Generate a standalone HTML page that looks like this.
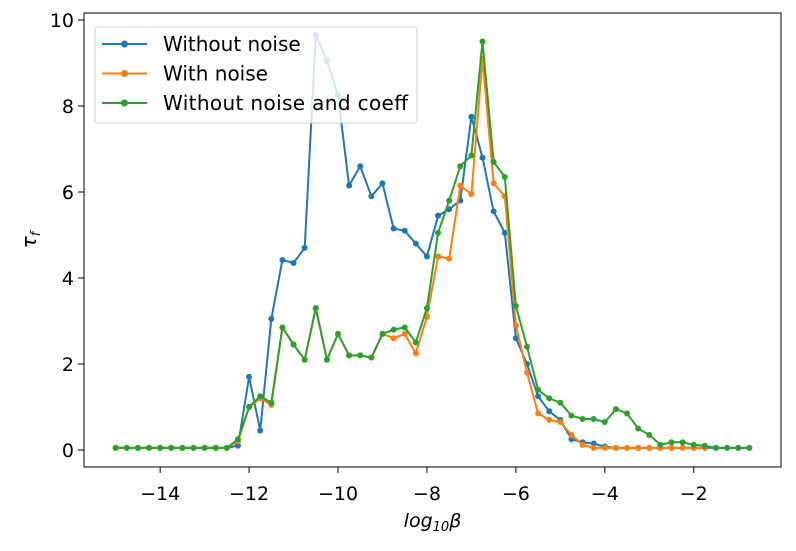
<!DOCTYPE html>
<html><head><meta charset="utf-8"><style>body{margin:0;background:#fff}svg{display:block;font-family:"DejaVu Sans","Liberation Sans",sans-serif}</style></head>
<body>
<svg id="chart" width="796" height="551"></svg>
<script>
const xStart=-15, xStep=0.25;
const blueVals=[0.05,0.05,0.05,0.05,0.05,0.05,0.05,0.05,0.05,0.05,0.05,0.1,1.7,0.45,3.05,4.42,4.35,4.7,9.65,9.05,8.25,6.15,6.6,5.9,6.2,5.15,5.1,4.8,4.5,5.45,5.6,5.8,7.75,6.8,5.55,5.05,2.6,2.0,1.25,0.9,0.7,0.25,0.18,0.15,0.08,0.05,0.05,0.05,0.05,0.05,0.05,0.05,0.05,0.05,0.05,0.05,0.05,0.05];
const orangeVals=[0.05,0.05,0.05,0.05,0.05,0.05,0.05,0.05,0.05,0.05,0.05,0.2,1.0,1.2,1.05,2.85,2.45,2.1,3.3,2.1,2.7,2.2,2.2,2.15,2.7,2.6,2.7,2.25,3.1,4.5,4.45,6.15,5.95,9.1,6.2,5.9,2.9,1.8,0.85,0.7,0.65,0.35,0.12,0.05,0.05,0.05,0.05,0.05,0.05,0.05,0.05,0.05,0.05,0.05];
const greenVals=[0.05,0.05,0.05,0.05,0.05,0.05,0.05,0.05,0.05,0.05,0.05,0.25,1.0,1.25,1.1,2.85,2.45,2.1,3.3,2.1,2.7,2.2,2.2,2.15,2.7,2.8,2.85,2.5,3.3,5.05,5.8,6.6,6.85,9.5,6.7,6.35,3.35,2.4,1.4,1.2,1.1,0.8,0.72,0.72,0.65,0.95,0.85,0.5,0.35,0.12,0.18,0.18,0.12,0.1,0.05,0.05,0.05,0.05];
const xTicks=[-14,-12,-10,-8,-6,-4,-2];
const yTicks=[0,2,4,6,8,10];
const seriesNames=["Without noise","With noise","Without noise and coeff"];
const colors=["#1f77b4","#ff7f0e","#2ca02c"];

const L=84,R=781,T=13,B=467;
const xmin=-15.7125,xmax=-0.0375;
const X=v=>L+(v-xmin)/(xmax-xmin)*(R-L);
const Y=v=>450-v*43;
const svg=document.getElementById('chart');
const NS='http://www.w3.org/2000/svg';
function mk(tag,attrs,parent){const e=document.createElementNS(NS,tag);for(const k in attrs)e.setAttribute(k,attrs[k]);(parent||svg).appendChild(e);return e;}

const plot=mk('g',{});


[blueVals,orangeVals,greenVals].forEach((vals,si)=>{
  const g=mk('g',{},plot);
  
  
  const pts=vals.map((v,i)=>X(xStart+i*xStep).toFixed(1)+','+Y(v).toFixed(1)).join(' ');
  const pl=mk('polyline',{points:pts,fill:'none',stroke:colors[si],'stroke-width':2,'stroke-linejoin':'round'},g);
  
  
  vals.forEach((v,i)=>{
    const c=mk('circle',{cx:X(xStart+i*xStep),cy:Y(v),r:3,fill:colors[si]},g);
    
    
  });
});

const frame=mk('rect',{x:L,y:T,width:R-L,height:B-T,fill:'none',stroke:'#000','stroke-width':1});



xTicks.forEach(t=>{
  const x=X(t);
  const tk=mk('line',{x1:x,x2:x,y1:B,y2:B+6,stroke:'#000'});
  
  
  const lb=mk('text',{x:x,y:500,'text-anchor':'middle','font-size':19});
  lb.textContent='\u2212'+Math.abs(t);
  
  
});
yTicks.forEach(t=>{
  const y=Y(t);
  const tk=mk('line',{x1:L-6,x2:L,y1:y,y2:y,stroke:'#000'});
  
  
  const lb=mk('text',{x:L-10,y:y+7,'text-anchor':'end','font-size':19});
  lb.textContent=t;
  
  
});

const xl=mk('text',{x:(L+R)/2,y:527,'text-anchor':'middle','font-size':19,'font-style':'italic'});
xl.innerHTML='log<tspan font-size="13" dy="4">10</tspan><tspan dy="-4">β</tspan>';


const yl=mk('text',{x:0,y:0,'text-anchor':'middle','font-size':20,'font-style':'italic',transform:'translate(36,240) rotate(-90)'});
yl.innerHTML='τ<tspan font-size="13" dy="4">f</tspan>';



const leg=mk('g',{});


mk('rect',{x:95,y:27,width:322,height:96,rx:3,fill:'#fff','fill-opacity':0.8,stroke:'#ccc'},leg);
seriesNames.forEach((n,i)=>{
  const y=44+i*29.5;
  const e=mk('g',{},leg);
  
  
  mk('line',{x1:102,x2:147,y1:y,y2:y,stroke:colors[i],'stroke-width':2},e);
  mk('circle',{cx:124.5,cy:y,r:3.5,fill:colors[i]},e);
  const t=mk('text',{x:163,y:y+7,'font-size':20,textLength:n.length>15?245:null},e);
  if(n.length<=15) t.removeAttribute('textLength');
  t.textContent=n;
});
</script>
</body></html>
